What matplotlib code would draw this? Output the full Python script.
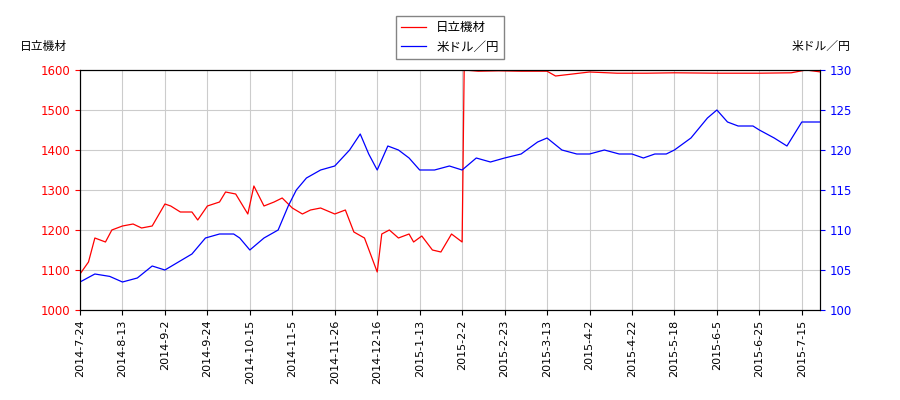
import matplotlib
matplotlib.use("Agg")
import matplotlib.pyplot as plt
import numpy as np
import pandas as pd

plt.rcParams['font.family'] = ['Noto Sans CJK JP', 'DejaVu Sans']

red_dates = ["2014-07-24","2014-07-28","2014-07-31","2014-08-05","2014-08-08","2014-08-13","2014-08-18","2014-08-22","2014-08-27","2014-09-02","2014-09-05","2014-09-10","2014-09-16","2014-09-19","2014-09-24","2014-09-30","2014-10-03","2014-10-08","2014-10-14","2014-10-17","2014-10-22","2014-10-27","2014-10-31","2014-11-05","2014-11-10","2014-11-14","2014-11-19","2014-11-26","2014-12-01","2014-12-05","2014-12-10","2014-12-16","2014-12-19","2014-12-24","2014-12-30","2015-01-06","2015-01-09","2015-01-14","2015-01-19","2015-01-23","2015-01-28","2015-02-02","2015-02-03","2015-02-10","2015-02-20","2015-03-02","2015-03-13","2015-03-17","2015-03-25","2015-04-02","2015-04-15","2015-05-01","2015-05-18","2015-06-05","2015-06-25","2015-07-10","2015-07-17","2015-07-24"]
red_vals = [1090,1120,1180,1170,1200,1210,1215,1205,1210,1265,1260,1245,1245,1225,1260,1270,1295,1290,1240,1310,1260,1270,1280,1255,1240,1250,1255,1240,1250,1195,1180,1095,1190,1200,1180,1190,1170,1185,1150,1145,1190,1170,1600,1597,1598,1597,1597,1585,1590,1595,1592,1592,1593,1592,1592,1593,1600,1595]

usd_dates = ["2014-07-24","2014-07-31","2014-08-07","2014-08-13","2014-08-20","2014-08-27","2014-09-02","2014-09-09","2014-09-16","2014-09-23","2014-09-30","2014-10-07","2014-10-10","2014-10-15","2014-10-22","2014-10-29","2014-11-03","2014-11-07","2014-11-12","2014-11-19","2014-11-26","2014-12-03","2014-12-08","2014-12-12","2014-12-16","2014-12-23","2014-12-30","2015-01-06","2015-01-13","2015-01-20","2015-01-27","2015-02-02","2015-02-09","2015-02-16","2015-02-23","2015-03-02","2015-03-09","2015-03-13","2015-03-20","2015-03-27","2015-04-02","2015-04-09","2015-04-16","2015-04-22","2015-04-29","2015-05-06","2015-05-13","2015-05-18","2015-05-25","2015-06-01","2015-06-05","2015-06-10","2015-06-15","2015-06-22","2015-06-25","2015-07-02","2015-07-08","2015-07-15","2015-07-24"]
usd_vals = [103.5,104.5,104.2,103.5,104.0,105.5,105.0,106.0,107.0,109.0,109.5,109.5,109.0,107.5,109.0,110.0,113.0,115.0,116.5,117.5,118.0,120.0,122.0,119.5,117.5,120.5,120.0,119.0,117.5,117.5,118.0,117.5,119.0,118.5,119.0,119.5,121.0,121.5,120.0,119.5,119.5,120.0,119.5,119.5,119.0,119.5,119.5,120.0,121.5,124.0,125.0,123.5,123.0,123.0,122.5,121.5,120.5,123.5,123.5]

ticks = ["2014-7-24","2014-8-13","2014-9-2","2014-9-24","2014-10-15","2014-11-5","2014-11-26","2014-12-16","2015-1-13","2015-2-2","2015-2-23","2015-3-13","2015-4-2","2015-4-22","2015-5-18","2015-6-5","2015-6-25","2015-7-15"]

# trading-day axis: ticks every 14 sessions
tick_ord = pd.to_datetime(ticks).map(pd.Timestamp.toordinal).values.astype(float)
tick_pos = np.arange(len(ticks)) * 14.0
def pos(dates):
    o = pd.to_datetime(dates).map(pd.Timestamp.toordinal).values.astype(float)
    return np.interp(o, tick_ord, tick_pos, right=None) if False else np.where(
        o <= tick_ord[-1], np.interp(o, tick_ord, tick_pos),
        tick_pos[-1] + (o - tick_ord[-1]) * 14.0 / 20.0)

fig = plt.figure(figsize=(9, 4), dpi=100)
ax = fig.add_axes([80/900, 90/400, 740/900, 240/400])
ax2 = ax.twinx()
l1, = ax.plot(pos(red_dates), red_vals, color='#ff0000', lw=0.9, label='日立機材')
l2, = ax2.plot(pos(usd_dates), usd_vals, color='#0000ff', lw=0.9, label='米ドル／円')
ax.set_ylim(1000, 1600)
ax2.set_ylim(100, 130)
ax.set_xlim(0, tick_pos[-1] + 6)
ax.set_xticks(tick_pos)
ax.set_xticklabels(ticks, rotation=90, fontsize=8, family=['DejaVu Sans'])
ax.grid(True, color='#cccccc', lw=0.8)
ax.tick_params(axis='y', colors='red', labelsize=8.5)
ax2.tick_params(axis='y', colors='blue', labelsize=8.5)
for t in ax.get_yticklabels() + ax2.get_yticklabels():
    t.set_family('DejaVu Sans')
fig.text(20/900, 1-46/400, '日立機材', fontsize=8.5, va='center')
fig.text(850/900, 1-46/400, '米ドル／円', fontsize=8.5, va='center', ha='right')
fig.legend(handles=[l1, l2], loc='upper center', bbox_to_anchor=(0.5, 0.975), fontsize=9, fancybox=False, edgecolor='#666666')
fig.savefig('out.png', dpi=100)
